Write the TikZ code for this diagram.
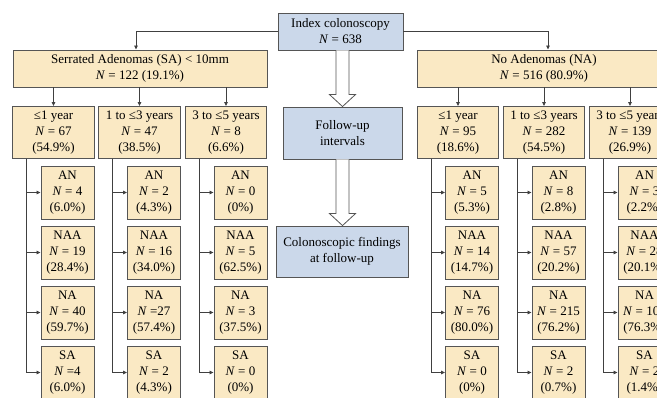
\documentclass[tikz,border=0pt]{standalone}
\usepackage{fontspec}
\setmainfont{Liberation Serif}
\usetikzlibrary{calc,arrows.meta}
\definecolor{boxtan}{HTML}{FAE9C4}
\definecolor{boxblue}{HTML}{CBD8EA}
\definecolor{edgegray}{HTML}{555555}
\definecolor{linegray}{HTML}{404040}
\newcommand{\NN}{\textit{N}}
\begin{document}
\begin{tikzpicture}[x=1pt,y=-1pt,
  basebox/.style={draw=edgegray, line width=0.9pt, align=center, inner sep=0pt,
    font=\fontsize{13}{16}\selectfont},
  tanbox/.style={basebox, fill=boxtan},
  blubox/.style={basebox, fill=boxblue},
  topbox/.style={tanbox, minimum width=254pt, minimum height=37pt},
  intbox/.style={tanbox, minimum width=81.5pt, minimum height=52pt},
  gbox/.style={tanbox, minimum width=53pt, minimum height=53pt},
  conn/.style={draw=linegray, line width=0.8pt, -{Triangle[length=4pt,width=3.5pt]}},
  hollow/.style={draw=edgegray, line width=0.8pt, fill=white, line join=miter}]
\useasboundingbox (0,0) rectangle (657,397);
\clip (0,0) rectangle (657,397);

% top level
\node[blubox, minimum width=125pt, minimum height=37pt] (idx) at (340.5,31.5) {Index colonoscopy\\\NN{} = 638};
\node[topbox] (sa) at (140,68.5) {Serrated Adenomas (SA) < 10mm\\\NN{} = 122 (19.1\%)};
\node[topbox] (na) at (544,68.5) {No Adenomas (NA)\\\NN{} = 516 (80.9\%)};

% middle legend boxes
\node[blubox, minimum width=119pt, minimum height=52pt] (fu) at (342.5,133) {Follow-up\\intervals};
\node[blubox, minimum width=132pt, minimum height=51pt] (cf) at (342,251.5) {Colonoscopic findings\\at follow-up};

% interval boxes
\node[intbox] (c1) at (53.5,132.5) {≤1 year\\\NN{} = 67\\(54.9\%)};
\node[intbox] (c2) at (139.5,132.5) {1 to ≤3 years\\\NN{} = 47\\(38.5\%)};
\node[intbox] (c3) at (226,132.5) {3 to ≤5 years\\\NN{} = 8\\(6.6\%)};
\node[intbox] (c4) at (458,132.5) {≤1 year\\\NN{} = 95\\(18.6\%)};
\node[intbox] (c5) at (544,132.5) {1 to ≤3 years\\\NN{} = 282\\(54.5\%)};
\node[intbox] (c6) at (630,132.5) {3 to ≤5 years\\\NN{} = 139\\(26.9\%)};

% findings, column 1
\node[gbox] (g11) at (67.5,192.5) {AN\\\NN{} = 4\\(6.0\%)};
\node[gbox] (g12) at (67.5,252.5) {NAA\\\NN{} = 19\\(28.4\%)};
\node[gbox] (g13) at (67.5,312.5) {NA\\\NN{} = 40\\(59.7\%)};
\node[gbox] (g14) at (67.5,372.5) {SA\\\NN{} =4\\(6.0\%)};
% column 2
\node[gbox] (g21) at (154,192.5) {AN\\\NN{} = 2\\(4.3\%)};
\node[gbox] (g22) at (154,252.5) {NAA\\\NN{} = 16\\(34.0\%)};
\node[gbox] (g23) at (154,312.5) {NA\\\NN{} =27\\(57.4\%)};
\node[gbox] (g24) at (154,372.5) {SA\\\NN{} = 2\\(4.3\%)};
% column 3
\node[gbox] (g31) at (240.5,192.5) {AN\\\NN{} = 0\\(0\%)};
\node[gbox] (g32) at (240.5,252.5) {NAA\\\NN{} = 5\\(62.5\%)};
\node[gbox] (g33) at (240.5,312.5) {NA\\\NN{} = 3\\(37.5\%)};
\node[gbox] (g34) at (240.5,372.5) {SA\\\NN{} = 0\\(0\%)};
% column 4
\node[gbox] (g41) at (472,192.5) {AN\\\NN{} = 5\\(5.3\%)};
\node[gbox] (g42) at (472,252.5) {NAA\\\NN{} = 14\\(14.7\%)};
\node[gbox] (g43) at (472,312.5) {NA\\\NN{} = 76\\(80.0\%)};
\node[gbox] (g44) at (472,372.5) {SA\\\NN{} = 0\\(0\%)};
% column 5
\node[gbox] (g51) at (558.5,192.5) {AN\\\NN{} = 8\\(2.8\%)};
\node[gbox] (g52) at (558.5,252.5) {NAA\\\NN{} = 57\\(20.2\%)};
\node[gbox] (g53) at (558.5,312.5) {NA\\\NN{} = 215\\(76.2\%)};
\node[gbox] (g54) at (558.5,372.5) {SA\\\NN{} = 2\\(0.7\%)};
% column 6
\node[gbox] (g61) at (644.5,192.5) {AN\\\NN{} = 3\\(2.2\%)};
\node[gbox] (g62) at (644.5,252.5) {NAA\\\NN{} = 28\\(20.1\%)};
\node[gbox] (g63) at (644.5,312.5) {NA\\\NN{} = 106\\(76.3\%)};
\node[gbox] (g64) at (644.5,372.5) {SA\\\NN{} = 2\\(1.4\%)};

% top connectors
\draw[conn] (idx.west) -| ([xshift=-4pt]sa.north);
\draw[conn] (idx.east) -| ([xshift=4pt]na.north);

% to interval boxes
\foreach \c in {c1,c2,c3} \draw[conn] (sa.south -| \c.north) -- (\c.north);
\foreach \c in {c4,c5,c6} \draw[conn] (na.south -| \c.north) -- (\c.north);

% trunks and branches
\foreach \i in {1,...,6} {
  \coordinate (t\i) at ([xshift=14.5pt]c\i.south west);
  \foreach \j in {1,2,3,4} \draw[conn] (t\i) |- (g\i\j.west);
}

% hollow block arrows
\draw[hollow] ($(idx.south -| fu.north)+(-6.5,0)$) -- ($(fu.north)+(-6.5,-12)$) -- ($(fu.north)+(-13,-12)$)
  -- (fu.north) -- ($(fu.north)+(13,-12)$) -- ($(fu.north)+(6.5,-12)$) -- ($(idx.south -| fu.north)+(6.5,0)$);
\draw[hollow] ($(fu.south)+(-6.5,0)$) -- ($(cf.north -| fu.south)+(-6.5,-12)$) -- ($(cf.north -| fu.south)+(-13,-12)$)
  -- (cf.north -| fu.south) -- ($(cf.north -| fu.south)+(13,-12)$) -- ($(cf.north -| fu.south)+(6.5,-12)$) -- ($(fu.south)+(6.5,0)$);
\end{tikzpicture}
\end{document}
